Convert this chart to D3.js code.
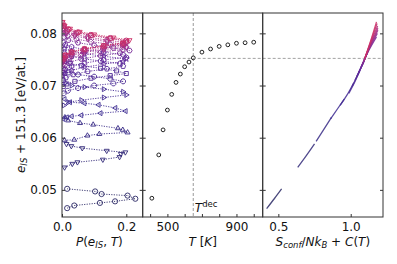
<!DOCTYPE html>
<html>
<head>
<meta charset="utf-8">
<script src="https://cdn.jsdelivr.net/npm/d3@7"></script>
<style>
  body { margin: 0; background: #fff; }
  svg { font-family: "DejaVu Sans", sans-serif; }
</style>
</head>
<body>
<div id="chart"></div>
<script>
// temperatures of the runs and the marker used for each one
const temps = [410, 450, 475, 500, 525, 550, 575, 600, 625, 650, 700, 750, 800, 850, 900, 950, 1000];
const markers = ["o", "v", "^", "<", ">", "8", "s", "p", "*", "h", "H", "D", "d", "P", "X", "o", "v"];

// mean inherent-structure energy per temperature (middle panel)
const meanEIS = [0.0484, 0.0567, 0.0615, 0.0653, 0.0683, 0.0706, 0.0722, 0.0736, 0.0745, 0.0753,
                 0.0764, 0.0770, 0.0775, 0.0778, 0.0781, 0.0782, 0.0783];
const tDec = 650;
const eDec = 0.0752;

// histograms P(e_IS, T) as [P, e] pairs (left panel)
const dist410 = [[0.016, 0.0465], [0.038, 0.0470], [0.118, 0.0475], [0.165, 0.0478], [0.228, 0.0483],
                 [0.204, 0.0489], [0.123, 0.0492], [0.103, 0.0497], [0.016, 0.0502]];
const dist450 = [[0.008, 0.0543], [0.032, 0.0550], [0.048, 0.0553], [0.127, 0.0558], [0.179, 0.0563],
                 [0.183, 0.0569], [0.197, 0.0572], [0.139, 0.0575], [0.063, 0.0580], [0.029, 0.0584], [0.014, 0.0588]];
const dist475 = [[0.008, 0.0595], [0.038, 0.0596], [0.079, 0.0604], [0.116, 0.0607], [0.204, 0.0610],
                 [0.189, 0.0615], [0.174, 0.0618], [0.097, 0.0625], [0.056, 0.0628], [0.019, 0.0633], [0.009, 0.0639]];
const dist500 = [[0.004, 0.0636], [0.015, 0.0639], [0.030, 0.0641], [0.060, 0.0643], [0.120, 0.0647],
                 [0.198, 0.0651], [0.166, 0.0657], [0.114, 0.0663], [0.070, 0.0666], [0.025, 0.0668], [0.008, 0.0674]];
const dist525 = [[0.006, 0.0662], [0.020, 0.0668], [0.060, 0.0672], [0.130, 0.0677], [0.200, 0.0682],
                 [0.190, 0.0688], [0.130, 0.0693], [0.070, 0.0697], [0.030, 0.0700], [0.010, 0.0705]];
const dist550 = [[0.005, 0.0685], [0.018, 0.0690], [0.050, 0.0695], [0.100, 0.0700], [0.160, 0.0704],
                 [0.190, 0.0708], [0.150, 0.0713], [0.100, 0.0717], [0.050, 0.0721], [0.020, 0.0725], [0.006, 0.0729]];
const dist575 = [[0.004, 0.0698], [0.015, 0.0703], [0.040, 0.0708], [0.090, 0.0714], [0.150, 0.0719],
                 [0.200, 0.0723], [0.170, 0.0728], [0.120, 0.0733], [0.060, 0.0738], [0.025, 0.0742], [0.008, 0.0746]];
const dist600 = [[0.004, 0.0710], [0.012, 0.0715], [0.035, 0.0721], [0.080, 0.0727], [0.140, 0.0732],
                 [0.190, 0.0737], [0.180, 0.0742], [0.120, 0.0747], [0.070, 0.0751], [0.030, 0.0756], [0.008, 0.0761]];
const dist625 = [[0.003, 0.0718], [0.010, 0.0723], [0.030, 0.0729], [0.070, 0.0735], [0.130, 0.0741],
                 [0.190, 0.0746], [0.200, 0.0751], [0.130, 0.0756], [0.070, 0.0761], [0.030, 0.0766], [0.008, 0.0771]];
const dist650 = [[0.003, 0.0725], [0.010, 0.0731], [0.030, 0.0737], [0.070, 0.0743], [0.130, 0.0749], [0.200, 0.0754],
                 [0.190, 0.0759], [0.130, 0.0764], [0.070, 0.0769], [0.030, 0.0774], [0.010, 0.0778], [0.004, 0.0782]];
const dist700 = [[0.003, 0.0733], [0.009, 0.0739], [0.025, 0.0745], [0.060, 0.0751], [0.120, 0.0757], [0.180, 0.0762],
                 [0.210, 0.0767], [0.160, 0.0772], [0.100, 0.0777], [0.050, 0.0782], [0.020, 0.0787], [0.006, 0.0793]];
const dist750 = [[0.003, 0.0740], [0.010, 0.0746], [0.025, 0.0752], [0.060, 0.0758], [0.120, 0.0764], [0.190, 0.0769],
                 [0.200, 0.0774], [0.150, 0.0779], [0.090, 0.0784], [0.045, 0.0789], [0.018, 0.0795], [0.005, 0.0800]];
const dist800 = [[0.003, 0.0745], [0.010, 0.0751], [0.028, 0.0757], [0.065, 0.0763], [0.130, 0.0769], [0.200, 0.0774],
                 [0.190, 0.0779], [0.140, 0.0784], [0.080, 0.0790], [0.040, 0.0795], [0.015, 0.0801], [0.004, 0.0806]];
const dist850 = [[0.003, 0.0748], [0.010, 0.0754], [0.030, 0.0760], [0.070, 0.0766], [0.130, 0.0772], [0.190, 0.0777],
                 [0.200, 0.0782], [0.140, 0.0787], [0.080, 0.0793], [0.040, 0.0798], [0.014, 0.0804], [0.004, 0.0810]];
const dist900 = [[0.003, 0.0750], [0.010, 0.0757], [0.030, 0.0763], [0.070, 0.0769], [0.130, 0.0775], [0.190, 0.0780],
                 [0.200, 0.0785], [0.150, 0.0790], [0.090, 0.0796], [0.045, 0.0801], [0.018, 0.0807], [0.005, 0.0814]];
const dist950 = [[0.003, 0.0752], [0.010, 0.0758], [0.030, 0.0764], [0.070, 0.0770], [0.130, 0.0776], [0.190, 0.0781], [0.200, 0.0786],
                 [0.150, 0.0791], [0.090, 0.0797], [0.050, 0.0802], [0.020, 0.0808], [0.006, 0.0814], [0.002, 0.0819]];
const dist1000 = [[0.003, 0.0753], [0.010, 0.0759], [0.030, 0.0765], [0.070, 0.0771], [0.130, 0.0777], [0.190, 0.0782], [0.210, 0.0787],
                  [0.160, 0.0792], [0.100, 0.0798], [0.055, 0.0803], [0.025, 0.0809], [0.008, 0.0815], [0.002, 0.0822]];
const distributions = [dist410, dist450, dist475, dist500, dist525, dist550, dist575, dist600, dist625,
                       dist650, dist700, dist750, dist800, dist850, dist900, dist950, dist1000];

// S_conf/NkB + C(T) against e_IS, one short curve per temperature (right panel)
const sconfS = [[0.419, 0.472, 0.523], [0.634, 0.692, 0.750], [0.761, 0.812, 0.867], [0.861, 0.908, 0.956],
                [0.927, 0.977, 1.020], [0.987, 1.028, 1.064], [1.010, 1.050, 1.091], [1.030, 1.075, 1.111],
                [1.043, 1.089, 1.124], [1.055, 1.101, 1.140], [1.068, 1.117, 1.178], [1.080, 1.127, 1.184],
                [1.088, 1.133, 1.188], [1.093, 1.137, 1.188], [1.095, 1.138, 1.186], [1.097, 1.139, 1.182],
                [1.098, 1.139, 1.178]];
const sconfE = [[0.0464, 0.0483, 0.0502], [0.0543, 0.0565, 0.0588], [0.0593, 0.0615, 0.0639], [0.0636, 0.0655, 0.0674],
                [0.0662, 0.0683, 0.0705], [0.0685, 0.0707, 0.0729], [0.0698, 0.0722, 0.0746], [0.0710, 0.0736, 0.0761],
                [0.0718, 0.0745, 0.0771], [0.0725, 0.0753, 0.0782], [0.0733, 0.0763, 0.0793], [0.0740, 0.0770, 0.0800],
                [0.0745, 0.0775, 0.0806], [0.0748, 0.0779, 0.0810], [0.0750, 0.0782, 0.0814], [0.0752, 0.0785, 0.0819],
                [0.0753, 0.0787, 0.0822]];

const pTicks = [0, 0.2];
const tTicks = [400, 500, 600, 700, 800, 900, 1000];
const tTickLabels = [500, 900];
const sTicks = [0.5, 1.0];
const eTicks = [0.05, 0.06, 0.07, 0.08];

// open marker outlines, roughly like the matplotlib filled_markers
function poly(n, r, rot) {
    const pts = d3.range(n).map(k => {
        const a = rot + 2 * Math.PI * k / n;
        return [r * Math.cos(a), r * Math.sin(a)];
    });
    return "M" + pts.map(p => p[0].toFixed(2) + "," + p[1].toFixed(2)).join("L") + "Z";
}
function markerPath(m, r) {
    switch (m) {
        case "o": return d3.symbol(d3.symbolCircle, Math.PI * r * r)();
        case "8": return poly(8, r, Math.PI / 8);
        case "v": return poly(3, r * 1.1, Math.PI / 2);
        case "^": return poly(3, r * 1.1, -Math.PI / 2);
        case "<": return poly(3, r * 1.1, Math.PI);
        case ">": return poly(3, r * 1.1, 0);
        case "s": return poly(4, r * 1.1, Math.PI / 4);
        case "p": return poly(5, r * 1.05, -Math.PI / 2);
        case "h": return poly(6, r, -Math.PI / 2);
        case "H": return poly(6, r, 0);
        case "D": return poly(4, r * 1.1, 0);
        case "d": return "M0," + (-r * 1.2) + "L" + (r * 0.7) + ",0L0," + (r * 1.2) + "L" + (-r * 0.7) + ",0Z";
        case "*": {
            const pts = d3.range(10).map(k => {
                const a = -Math.PI / 2 + Math.PI * k / 5;
                const rr = k % 2 ? r * 0.45 : r * 1.2;
                return [rr * Math.cos(a), rr * Math.sin(a)];
            });
            return "M" + pts.map(p => p.join(",")).join("L") + "Z";
        }
        case "P":
        case "X": {
            const w = r * 0.4, L = r * 1.05;
            let pts = [[-w, -L], [w, -L], [w, -w], [L, -w], [L, w], [w, w], [w, L], [-w, L], [-w, w], [-L, w], [-L, -w], [-w, -w]];
            if (m === "X") {
                const c = Math.SQRT1_2;
                pts = pts.map(p => [(p[0] - p[1]) * c, (p[0] + p[1]) * c]);
            }
            return "M" + pts.map(p => p.join(",")).join("L") + "Z";
        }
    }
    return d3.symbol(d3.symbolCircle, Math.PI * r * r)();
}

function initChart() {
    const width = 397;
    const height = 264;
    const top = 13, bottom = 217;
    const p1 = [62, 142.7], p2 = [142.7, 262.7], p3 = [262.7, 383];

    const svg = d3.select("#chart").append("svg")
        .attr("width", width)
        .attr("height", height);

    const y = d3.scaleLinear().domain([0.0448, 0.0839]).range([bottom, top]);
    const xP = d3.scaleLinear().domain([0, 0.251]).range(p1);
    const xT = d3.scaleLinear().domain([357, 1052]).range(p2);
    const xS = d3.scaleLinear().domain([0.392, 1.223]).range(p3);

    const color = d3.scaleLinear()
        .domain([410, 500, 650, 800, 1000])
        .range(["#2c2a66", "#3d2c92", "#65299c", "#9a2d8c", "#cc2f66"]);

    // clip paths for each panel
    const defs = svg.append("defs");
    [["c1", p1], ["c2", p2], ["c3", p3]].forEach(([id, r]) => {
        defs.append("clipPath").attr("id", id).append("rect")
            .attr("x", r[0]).attr("y", top).attr("width", r[1] - r[0]).attr("height", bottom - top);
    });

    // ---- left panel: distributions
    const g1 = svg.append("g").attr("clip-path", "url(#c1)");
    const line1 = d3.line().x(d => xP(d[0])).y(d => y(d[1]));
    distributions.forEach((dist, i) => {
        const c = color(temps[i]);
        g1.append("path")
            .attr("d", line1(dist))
            .attr("fill", "none")
            .attr("stroke", c)
            .attr("stroke-width", 1)
            .attr("stroke-dasharray", "1.2,1.3")
            .attr("opacity", 0.9);
        g1.selectAll(null)
            .data(dist)
            .join("path")
            .attr("transform", d => `translate(${xP(d[0])},${y(d[1])})`)
            .attr("d", markerPath(markers[i], 2.6))
            .attr("fill", "none")
            .attr("stroke", c)
            .attr("stroke-width", 1)
            .attr("opacity", 0.9);
    });

    // ---- middle panel: mean energy vs temperature
    const g2 = svg.append("g").attr("clip-path", "url(#c2)");
    g2.append("line")
        .attr("x1", xT(tDec)).attr("x2", xT(tDec))
        .attr("y1", top).attr("y2", bottom)
        .attr("stroke", "#aaa").attr("stroke-width", 1.2).attr("stroke-dasharray", "3,2");
    g2.selectAll("circle")
        .data(meanEIS)
        .join("circle")
        .attr("cx", (d, i) => xT(temps[i]))
        .attr("cy", d => y(d))
        .attr("r", 1.9)
        .attr("fill", "none")
        .attr("stroke", "#222")
        .attr("stroke-width", 1);

    // horizontal dashed line through panels 2 and 3
    svg.append("line")
        .attr("x1", p2[0]).attr("x2", p3[1])
        .attr("y1", y(eDec)).attr("y2", y(eDec))
        .attr("stroke", "#999").attr("stroke-width", 0.9).attr("stroke-dasharray", "3,2");

    const dec = svg.append("text")
        .attr("x", xT(tDec) + 1.5)
        .attr("y", 212)
        .attr("font-size", 12)
        .attr("fill", "#111");
    dec.append("tspan").attr("font-style", "italic").text("T");
    dec.append("tspan").attr("font-size", 8.5).attr("dy", -5).text("dec");

    // ---- right panel: configurational entropy curves
    const g3 = svg.append("g").attr("clip-path", "url(#c3)");
    const line3 = d3.line().curve(d3.curveMonotoneY).x(d => xS(d[0])).y(d => y(d[1]));
    sconfS.forEach((s, i) => {
        g3.append("path")
            .attr("d", line3(s.map((v, k) => [v, sconfE[i][k]])))
            .attr("fill", "none")
            .attr("stroke", color(temps[i]))
            .attr("stroke-width", 1.3)
            .attr("opacity", 0.85);
    });

    // ---- frames and ticks
    [p1, p2, p3].forEach(r => {
        svg.append("rect")
            .attr("x", r[0]).attr("y", top)
            .attr("width", r[1] - r[0]).attr("height", bottom - top)
            .attr("fill", "none").attr("stroke", "#333").attr("stroke-width", 1);
    });

    const styleAxis = g => {
        g.select(".domain").remove();
        g.selectAll(".tick line").attr("stroke", "#333");
        g.selectAll(".tick text").attr("fill", "#111").attr("font-size", 12)
            .attr("font-family", "DejaVu Sans, sans-serif");
    };

    // y ticks on every panel edge, pointing inward
    svg.append("g").attr("transform", `translate(${p1[0]},0)`)
        .call(d3.axisLeft(y).tickValues(eTicks).tickSize(-3).tickPadding(5).tickFormat(d3.format(".2f")))
        .call(styleAxis);
    [p2[0], p3[0]].forEach(x0 => {
        svg.append("g").attr("transform", `translate(${x0},0)`)
            .call(d3.axisLeft(y).tickValues(eTicks).tickSize(-3).tickFormat(""))
            .call(styleAxis);
    });
    [p1[1], p2[1], p3[1]].forEach(x0 => {
        svg.append("g").attr("transform", `translate(${x0},0)`)
            .call(d3.axisRight(y).tickValues(eTicks).tickSize(-3).tickFormat(""))
            .call(styleAxis);
    });

    svg.append("g").attr("transform", `translate(0,${bottom})`)
        .call(d3.axisBottom(xP).tickValues(pTicks).tickSize(-3).tickPadding(5).tickFormat(d3.format(".1f")))
        .call(styleAxis);
    svg.append("g").attr("transform", `translate(0,${bottom})`)
        .call(d3.axisBottom(xT).tickValues(tTicks).tickSize(-3).tickPadding(5)
            .tickFormat(d => tTickLabels.includes(d) ? d : ""))
        .call(styleAxis);
    svg.append("g").attr("transform", `translate(0,${bottom})`)
        .call(d3.axisBottom(xS).tickValues(sTicks).tickSize(-3).tickPadding(5).tickFormat(d3.format(".1f")))
        .call(styleAxis);

    // ---- axis titles
    const addLabel = (x, yy, parts, rotate) => {
        const t = svg.append("text")
            .attr("text-anchor", "middle")
            .attr("font-size", 12)
            .attr("fill", "#111")
            .attr("transform", `translate(${x},${yy})` + (rotate ? " rotate(-90)" : ""));
        parts.forEach(([txt, it, sub]) => {
            const s = t.append("tspan").text(txt);
            if (it) s.attr("font-style", "italic");
            if (sub) s.attr("font-size", 8.5).attr("baseline-shift", "-25%");
        });
    };

    addLabel((p1[0] + p1[1]) / 2 - 3, 246, [["P", 1], ["(", 0], ["e", 1], ["IS", 1, 1], [", ", 0], ["T", 1], [")", 0]]);
    addLabel((p2[0] + p2[1]) / 2, 246, [["T", 1], [" [", 0], ["K", 1], ["]", 0]]);
    addLabel((p3[0] + p3[1]) / 2, 246, [["S", 1], ["conf", 1, 1], ["/", 0], ["Nk", 1], ["B", 1, 1], [" + ", 0], ["C", 1], ["(", 0], ["T", 1], [")", 0]]);
    addLabel(25, (top + bottom) / 2, [["e", 1], ["IS", 1, 1], [" + 151.3 [eV/at.]", 0]], true);
}

window.onload = initChart;
</script>
</body>
</html>
